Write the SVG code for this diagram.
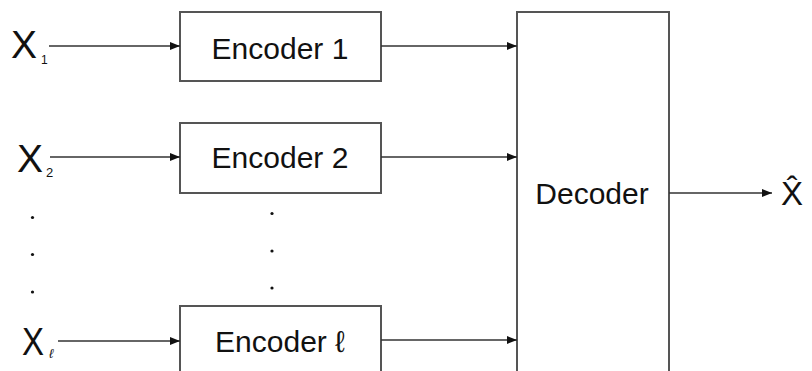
<svg xmlns="http://www.w3.org/2000/svg" width="812" height="371" viewBox="0 0 812 371">
<style>
.box{fill:#fff;stroke:#555;stroke-width:2}
.lbl{font-family:"Liberation Sans",Arial,sans-serif;font-size:30px;fill:#111;text-anchor:middle}
.var{font-family:"Liberation Sans",Arial,sans-serif;fill:#111}
.conn{stroke:#333;stroke-width:1.6;fill:none;marker-end:url(#ah)}
.dot{fill:#111}
</style>
<defs>
<marker id="ah" viewBox="0 0 10 8" refX="10" refY="4" markerWidth="10" markerHeight="8" markerUnits="userSpaceOnUse" orient="auto">
<path d="M0,0 L10,4 L0,8 z" fill="#111"/>
</marker>
</defs>
<rect width="812" height="371" fill="#fff"/>
<g id="x1"><text class="var" x="11" y="58" font-size="39">X</text><text class="var" x="41" y="64" font-size="12">1</text></g>
<g id="x2"><text class="var" x="17" y="172" font-size="39">X</text><text class="var" x="46" y="177" font-size="13">2</text></g>
<g id="xl"><text class="var" x="22" y="355" font-size="39" textLength="22" lengthAdjust="spacingAndGlyphs">X</text><text class="var" x="49" y="358" font-size="13" font-style="italic">ℓ</text></g>
<g id="leftdots"><circle class="dot" cx="32.5" cy="217.5" r="1.6"/><circle class="dot" cx="32.5" cy="254.5" r="1.6"/><circle class="dot" cx="32.5" cy="292" r="1.6"/></g>
<g id="enc1"><rect class="box" x="180" y="12" width="201" height="69"/><text class="lbl" x="280" y="58.5">Encoder 1</text></g>
<g id="enc2"><rect class="box" x="180" y="123" width="201" height="70"/><text class="lbl" x="280" y="168">Encoder 2</text></g>
<g id="encl"><rect class="box" x="180" y="306" width="201" height="80"/><text class="lbl" x="280" y="352">Encoder ℓ</text></g>
<g id="middots"><circle class="dot" cx="272" cy="213.5" r="1.6"/><circle class="dot" cx="272" cy="251" r="1.6"/><circle class="dot" cx="272" cy="288" r="1.6"/></g>
<g id="decoder"><rect class="box" x="517" y="12" width="152" height="380"/><text class="lbl" x="592" y="204">Decoder</text></g>
<g id="xhat"><text class="var" x="781" y="205" font-size="33">X&#770;</text></g>
<g id="connectors">
<line class="conn" x1="49" y1="46" x2="180" y2="46"/>
<line class="conn" x1="50" y1="157" x2="180" y2="157"/>
<line class="conn" x1="58" y1="341" x2="180" y2="341"/>
<line class="conn" x1="381" y1="46" x2="517" y2="46"/>
<line class="conn" x1="381" y1="157" x2="517" y2="157"/>
<line class="conn" x1="381" y1="340" x2="517" y2="340"/>
<line class="conn" x1="669" y1="193" x2="772" y2="193"/>
</g>
</svg>
